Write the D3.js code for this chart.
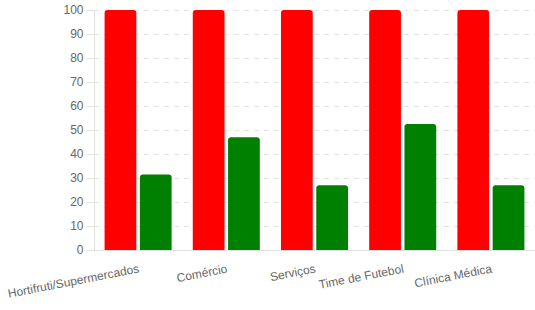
<!DOCTYPE html>
<html><head><meta charset="utf-8">
<script src="https://cdn.jsdelivr.net/npm/d3@7"></script>
<style>body{margin:0;background:#fff}svg{display:block}text{font-family:"Liberation Sans",Arial,Helvetica,sans-serif}</style>
</head><body><svg id="c" width="535" height="310"></svg>
<script>
const categories = ["Hortifruti/Supermercados","Comércio","Serviços","Time de Futebol","Clínica Médica"];
const redValues = [100,100,100,100,100];
const greenValues = [31.5,47,27,52.5,27];
const yTicks = [0,10,20,30,40,50,60,70,80,90,100];
const seriesColors = ["#ff0000","#008000"];

const svg = d3.select("#c");
const pLeft = 94, pRight = 535, pTop = 10, pBottom = 250;
const x = d3.scaleBand().domain(categories).range([pLeft,pRight]).paddingInner(0).paddingOuter(0);
const y = d3.scaleLinear().domain([0,100]).range([pBottom,pTop]);

// gridlines
svg.append("g").selectAll("line").data(yTicks.filter(d=>d>0)).join("line")
  .attr("x1",pLeft).attr("x2",pRight).attr("y1",d=>y(d)+0.5).attr("y2",d=>y(d)+0.5)
  .attr("stroke","#e4e4e4").attr("stroke-dasharray","5,5");

// y axis
const yAxis = d3.axisLeft(y).tickValues(yTicks).tickSize(7).tickPadding(4);
const gy = svg.append("g").attr("transform",`translate(${pLeft+0.5},0)`).call(yAxis);
gy.select(".domain").remove();
gy.selectAll(".tick line").attr("stroke","#e0e0e0");
gy.selectAll(".tick text").attr("fill","#666").attr("font-size","12px").style("font-family",'"Liberation Sans",Arial,sans-serif');
svg.append("line").attr("x1",pLeft+0.5).attr("x2",pLeft+0.5).attr("y1",pTop).attr("y2",pBottom).attr("stroke","#e0e0e0");

// bars
const inner = d3.scaleBand().domain([0,1]).range([0, x.bandwidth()*0.8]);
const rad = 3;
function barPath(x0,w,yT,yB){
  const rr = Math.min(rad,(yB-yT));
  return `M${x0},${yB}V${yT+rr}Q${x0},${yT} ${x0+rr},${yT}H${x0+w-rr}Q${x0+w},${yT} ${x0+w},${yT+rr}V${yB}Z`;
}
[redValues,greenValues].forEach((vals,si)=>{
  svg.append("g").selectAll("path").data(categories).join("path")
    .attr("d",(c,i)=>{
      const slot = inner.bandwidth();
      const bw = slot*0.9;
      const x0 = x(c) + x.bandwidth()*0.1 + inner(si) + (slot-bw)/2;
      return barPath(x0,bw,y(vals[i]),y(0));
    })
    .attr("fill",seriesColors[si]);
});

// x axis line
svg.append("line").attr("x1",pLeft).attr("x2",pRight).attr("y1",pBottom+0.5).attr("y2",pBottom+0.5).attr("stroke","#e0e0e0");

// x labels
svg.append("g").selectAll("text").data(categories).join("text")
  .attr("transform",c=>`translate(${x(c)+x.bandwidth()/2},${pBottom+14}) rotate(-11)`)
  .attr("text-anchor","end").attr("dy","0.71em")
  .attr("fill","#666").attr("font-size","12px").text(c=>c);
</script></body></html>
